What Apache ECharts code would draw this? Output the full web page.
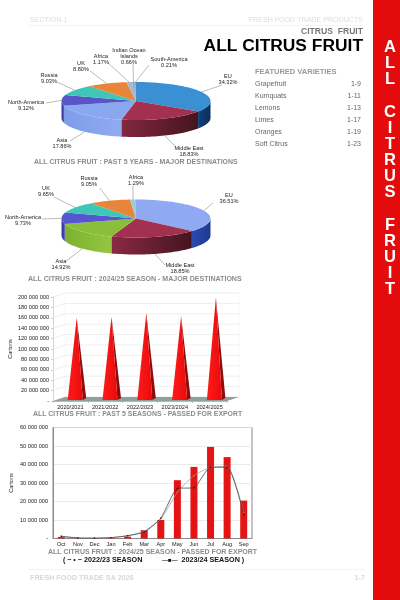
<!DOCTYPE html>
<html>
<head>
<meta charset="utf-8">
<script src="https://cdn.jsdelivr.net/npm/echarts@6/dist/echarts.min.js"></script>
<style>
html, body { margin: 0; background: #fff; }
#main { width: 400px; height: 600px; }
</style>
</head>
<body>
<div id="main"></div>
<script>
// first pie : past 5 years
const pie1Names = ['EU', 'Middle East', 'Asia', 'North-America', 'Russia', 'UK', 'Africa', 'Indian Ocean\nIslands', 'South-America'];
const pie1Values = [34.32, 18.83, 17.86, 9.12, 9.03, 8.80, 1.17, 0.66, 0.21];
// second pie : 2024/25 season
const pie2Names = ['EU', 'Middle East', 'Asia', 'North-America', 'UK', 'Russia', 'Africa'];
const pie2Values = [36.51, 18.85, 14.92, 9.73, 9.65, 9.05, 1.29];
// pyramids
const seasons = ['2020/2021', '2021/2022', '2022/2023', '2023/2024', '2024/2025'];
const seasonCartons = [160000000, 162000000, 169000000, 163000000, 199000000];
// monthly bars and lines
const months = ['Oct', 'Nov', 'Dec', 'Jan', 'Feb', 'Mar', 'Apr', 'May', 'Jun', 'Jul', 'Aug', 'Sep'];
const season2425 = [800000, 100000, 100000, 300000, 1000000, 4500000, 10000000, 31500000, 38700000, 49500000, 44000000, 20500000];
const season2223 = [1000000, 300000, 200000, 400000, 1500000, 4000000, 10500000, 25000000, 34000000, 38500000, 39000000, 14000000];
const season2324 = [1200000, 300000, 200000, 500000, 1500000, 3500000, 11000000, 27000000, 27500000, 38500000, 38500000, 13000000];
// contents list
const varieties = ['Grapefruit', 'Kumquats', 'Lemons', 'Limes', 'Oranges', 'Soft Citrus'];
const varietyPages = ['1-9', '1-11', '1-13', '1-17', '1-19', '1-23'];

// pie look
const pie1Top = ['#3a90d2', '#a2304f', '#8aa8f0', '#5656c8', '#3fc6b6', '#e8853a', '#a8b8cc', '#9aaabf', '#8fa0b8'];
const pie1Side = [['#0f3f7c', '#0b2f5e'], ['#84283f', '#44141f'], ['#7f9cea', '#8fabf0'], ['#3c3ca0', '#3c3ca0'], ['#333', '#333'], ['#333', '#333'], ['#333', '#333'], ['#333', '#333'], ['#333', '#333']];
const pie2Top = ['#8fa9f2', '#a2304f', '#8abf3c', '#5656d0', '#3fc6b6', '#e8853a', '#a0ccd4'];
const pie2Side = [['#2a4cb0', '#1e3a90'], ['#8a2a44', '#45141f'], ['#7cb030', '#94c640'], ['#3c3cb0', '#3c3cb0'], ['#333', '#333'], ['#333', '#333'], ['#333', '#333']];
const pie1Box = { cx: 136, cy: 101, rx: 74.5, ry: 19, depth: 17 };
const pie2Box = { cx: 136, cy: 218.5, rx: 74.5, ry: 19, depth: 17 };
// label centre x, centre y of the text block, then where the leader stops
const pie1Labels = [[228, 79, 222, 85], [189, 151, 175, 146], [62, 143, 70, 141], [26, 105, 46, 103], [49, 78, 57, 82], [81, 66, 90, 71], [101, 59.5, 108, 63], [129, 56, 133, 64], [169, 62, 149, 65]];
const pie2Labels = [[229, 198, 213, 203], [180, 268, 165, 265], [61, 264, 65, 262], [23, 220, 42, 219], [46, 191, 54, 197], [89, 181, 100, 188], [136, 180, 133, 186]];

const FONT = '"Liberation Sans", Arial, sans-serif';

function ellipsePoint(box, deg, down) {
  const a = deg * Math.PI / 180;
  return [box.cx + box.rx * Math.sin(a), box.cy - box.ry * Math.cos(a) + (down || 0)];
}

function pieSeries(values, names, box, topColors, sideColors, labels) {
  const total = values.reduce(function (s, v) { return s + v; }, 0);
  const starts = [];
  let run = 0;
  values.forEach(function (v) { starts.push(run); run += v; });
  return {
    type: 'custom',
    coordinateSystem: 'none',
    silent: true,
    data: values,
    renderItem: function (params, api) {
      const i = params.dataIndex;
      const a0 = starts[i] / total * 360;
      const a1 = (starts[i] + values[i]) / total * 360;
      const children = [];
      // side wall, front half only
      const s0 = Math.max(a0, 90), s1 = Math.min(a1, 270);
      if (s1 > s0) {
        const upper = [], lower = [];
        for (let d = s0; d <= s1 + 0.01; d += 2) {
          upper.push(ellipsePoint(box, Math.min(d, s1)));
          lower.unshift(ellipsePoint(box, Math.min(d, s1), box.depth));
        }
        upper.push(ellipsePoint(box, s1));
        lower.unshift(ellipsePoint(box, s1, box.depth));
        children.push({
          type: 'polygon',
          shape: { points: upper.concat(lower) },
          style: { fill: new echarts.graphic.LinearGradient(0, 0, 1, 0, [
            { offset: 0, color: sideColors[i][0] }, { offset: 1, color: sideColors[i][1] }
          ]) }
        });
      }
      // top face
      const top = [[box.cx, box.cy]];
      for (let d = a0; d < a1; d += 2) top.push(ellipsePoint(box, d));
      top.push(ellipsePoint(box, a1));
      children.push({ type: 'polygon', shape: { points: top }, style: { fill: topColors[i] } });
      // leader and text
      const mid = (a0 + a1) / 2;
      const front = mid > 100 && mid < 260;
      const from = ellipsePoint(box, mid, front ? box.depth : 0);
      children.push({
        type: 'line',
        shape: { x1: from[0], y1: from[1], x2: labels[i][2], y2: labels[i][3] },
        style: { stroke: '#777', lineWidth: 0.5 }
      });
      children.push({
        type: 'text',
        x: labels[i][0], y: labels[i][1],
        style: {
          text: names[i] + '\n' + values[i].toFixed(2) + '%',
          align: 'center', verticalAlign: 'middle',
          font: '5.6px ' + FONT, lineHeight: 6, fill: '#222'
        }
      });
      return { type: 'group', children: children };
    }
  };
}

// back wall and floor behind the pyramids
function wallSeries() {
  const dx = 12, dy = 4;
  return {
    type: 'custom',
    xAxisIndex: 0, yAxisIndex: 0,
    silent: true, z: 1,
    data: [0],
    renderItem: function (params, api) {
      const c = params.coordSys;
      const base = c.y + c.height, right = c.x + c.width;
      const children = [
        { type: 'line', shape: { x1: c.x + dx, y1: c.y - dy, x2: c.x + dx, y2: base - dy }, style: { stroke: '#ececec', lineWidth: 0.5 } },
        { type: 'line', shape: { x1: right + dx, y1: c.y - dy, x2: right + dx, y2: base - dy }, style: { stroke: '#ececec', lineWidth: 0.5 } }
      ];
      for (let v = 0; v <= 200000000; v += 20000000) {
        const y = api.coord([0, v])[1];
        children.push({ type: 'polyline', shape: { points: [[c.x, y], [c.x + dx, y - dy], [right + dx, y - dy]] }, style: { fill: 'none', stroke: '#e2e2e2', lineWidth: 0.6 } });
      }
      children.push({ type: 'polygon', shape: { points: [[c.x, base], [right, base], [right + dx, base - dy], [c.x + dx, base - dy]] }, style: { fill: '#8fa09c' } });
      return { type: 'group', children: children };
    }
  };
}

function pyramidSeries() {
  return {
    type: 'custom',
    xAxisIndex: 0, yAxisIndex: 0,
    silent: true, z: 3,
    data: seasons.map(function (s, i) { return [i, seasonCartons[i]]; }),
    encode: { x: 0, y: 1 },
    renderItem: function (params, api) {
      const p = api.coord([api.value(0), api.value(1)]);
      const b = api.coord([api.value(0), 0]);
      const x = p[0] + 6.3;
      return {
        type: 'group',
        children: [
          { type: 'polygon', shape: { points: [[x + 6, b[1] - 1], [x, p[1]], [x + 9.5, b[1] - 3]] }, style: { fill: '#8e0c0c' } },
          { type: 'polygon', shape: { points: [[x - 9, b[1] - 1], [x, p[1]], [x + 6, b[1] - 1]] }, style: { fill: new echarts.graphic.LinearGradient(0, 0, 1, 0, [
            { offset: 0, color: '#ff1a1a' }, { offset: 1, color: '#e80c0c' }
          ]) } }
        ]
      };
    }
  };
}

function spaced(v) {
  if (v === 0) return '-';
  return String(v).replace(/\B(?=(\d{3})+(?!\d))/g, ' ');
}

function txt(text, x, y, opt) {
  opt = opt || {};
  return {
    type: 'text', x: x, y: y, silent: true,
    style: {
      text: text,
      align: opt.align || 'left', verticalAlign: 'middle',
      font: (opt.bold ? 'bold ' : '') + (opt.size || 7) + 'px ' + FONT,
      fill: opt.color || '#666',
      lineHeight: opt.lineHeight
    }
  };
}

const pageGraphics = [
  { type: 'rect', shape: { x: 373, y: 0, width: 27, height: 600 }, style: { fill: '#e30b0b' } },
  { type: 'line', shape: { x1: 28, y1: 25.5, x2: 363, y2: 25.5 }, style: { stroke: '#eee', lineWidth: 0.7 } },
  { type: 'line', shape: { x1: 28, y1: 569.5, x2: 364, y2: 569.5 }, style: { stroke: '#eee', lineWidth: 0.7 } },
  txt('SECTION 1', 30, 20.5, { size: 7.1, color: '#dcdcdc' }),
  txt('FRESH FOOD TRADE PRODUCTS', 363, 20.5, { size: 7.1, color: '#dcdcdc', align: 'right' }),
  txt('CITRUS  FRUIT', 363, 32, { size: 8.6, bold: true, color: '#777', align: 'right' }),
  txt('ALL CITRUS FRUIT', 363, 46.5, { size: 17.4, bold: true, color: '#000', align: 'right' }),
  txt('FEATURED VARIETIES', 255, 71.5, { size: 7.5, bold: true, color: '#999' }),
  txt('A\nL\nL\n\nC\nI\nT\nR\nU\nS\n\nF\nR\nU\nI\nT', 390, 168.5, { size: 16.5, bold: true, color: '#fff', align: 'center', lineHeight: 16.13 }),
  txt('ALL CITRUS FRUIT : PAST 5 YEARS - MAJOR DESTINATIONS', 34, 162, { size: 6.95, bold: true, color: '#8c8c8c' }),
  txt('ALL CITRUS FRUIT : 2024/25 SEASON - MAJOR DESTINATIONS', 28, 279.5, { size: 7.05, bold: true, color: '#8c8c8c' }),
  txt('ALL CITRUS FRUIT : PAST 5 SEASONS - PASSED FOR EXPORT', 33, 414.5, { size: 6.9, bold: true, color: '#8c8c8c' }),
  txt('ALL CITRUS FRUIT : 2024/25 SEASON - PASSED FOR EXPORT', 48, 552, { size: 7, bold: true, color: '#8c8c8c' }),
  txt('( \u2212 \u2022 \u2212', 63, 560.5, { size: 7, bold: true, color: '#111' }),
  txt('2022/23 SEASON', 84, 560.5, { size: 7.2, bold: true, color: '#111' }),
  txt('\u2014\u25A0\u2014', 162, 560.5, { size: 6, bold: true, color: '#111' }),
  txt('2023/24 SEASON )', 181.5, 560.5, { size: 7.2, bold: true, color: '#111' }),
  txt('FRESH FOOD TRADE SA 2026', 30, 578.3, { size: 7.2, bold: true, color: '#d8d8d8' }),
  txt('1-7', 365, 578.3, { size: 7.2, bold: true, color: '#d8d8d8', align: 'right' })
];
varieties.forEach(function (v, i) {
  pageGraphics.push(txt(v, 255, 84 + i * 12.05, { size: 7, color: '#666' }));
  pageGraphics.push(txt(varietyPages[i], 361, 84 + i * 12.05, { size: 7, color: '#666', align: 'right' }));
});

const tickFont = { fontFamily: FONT, fontSize: 5.6, color: '#222' };

const myChart = echarts.init(document.getElementById('main'), null, { renderer: 'canvas' });
myChart.setOption({
  animation: false,
  backgroundColor: '#fff',
  graphic: { elements: pageGraphics },
  grid: [
    { left: 53, top: 297, width: 174, height: 104 },
    { left: 53, top: 427.5, width: 199, height: 111, show: true, backgroundColor: 'transparent', borderColor: '#8a8a8a', borderWidth: 1 }
  ],
  xAxis: [
    {
      type: 'category', gridIndex: 0, data: seasons,
      axisTick: { show: true, length: 2, lineStyle: { color: '#999', width: 0.5 } },
      axisLine: { lineStyle: { color: '#888', width: 0.6 } },
      axisLabel: Object.assign({ margin: 3, interval: 0 }, tickFont)
    },
    {
      type: 'category', gridIndex: 1, data: months,
      axisTick: { show: false },
      axisLine: { lineStyle: { color: '#8a8a8a', width: 1 } },
      axisLabel: Object.assign({ margin: 3, interval: 0 }, tickFont)
    }
  ],
  yAxis: [
    {
      type: 'value', gridIndex: 0, min: 0, max: 200000000, interval: 20000000,
      name: 'Cartons', nameLocation: 'middle', nameGap: 40, nameRotate: 90,
      nameTextStyle: { fontFamily: FONT, fontSize: 5.6, color: '#222' },
      axisLine: { show: true, lineStyle: { color: '#aaa', width: 0.5 } },
      axisTick: { show: true, length: 2, lineStyle: { color: '#999', width: 0.5 } },
      splitLine: { show: false },
      axisLabel: Object.assign({ margin: 4, formatter: spaced }, tickFont)
    },
    {
      type: 'value', gridIndex: 1, min: 0, max: 60000000, interval: 10000000,
      name: 'Cartons', nameLocation: 'middle', nameGap: 39, nameRotate: 90,
      nameTextStyle: { fontFamily: FONT, fontSize: 5.6, color: '#222' },
      axisLine: { show: true, lineStyle: { color: '#8a8a8a', width: 1 } },
      axisTick: { show: false },
      splitLine: { show: true, lineStyle: { color: '#e6e6e6', width: 0.8 } },
      axisLabel: Object.assign({ margin: 5, formatter: spaced }, tickFont)
    }
  ],
  series: [
    pieSeries(pie1Values, pie1Names, pie1Box, pie1Top, pie1Side, pie1Labels),
    pieSeries(pie2Values, pie2Names, pie2Box, pie2Top, pie2Side, pie2Labels),
    wallSeries(),
    pyramidSeries(),
    {
      type: 'bar', xAxisIndex: 1, yAxisIndex: 1, data: season2425, barWidth: 7,
      itemStyle: { color: '#e51313' }, silent: true
    },
    {
      type: 'line', xAxisIndex: 1, yAxisIndex: 1, data: season2223, smooth: 0.2,
      lineStyle: { color: '#999', width: 0.7 }, symbol: 'circle', symbolSize: 1.2, itemStyle: { color: '#999' }, silent: true
    },
    {
      type: 'line', xAxisIndex: 1, yAxisIndex: 1, data: season2324, smooth: 0.2,
      lineStyle: { color: '#333', width: 0.7 }, symbol: 'rect', symbolSize: 1.4, itemStyle: { color: '#222' }, silent: true
    }
  ]
});
</script>
</body>
</html>
